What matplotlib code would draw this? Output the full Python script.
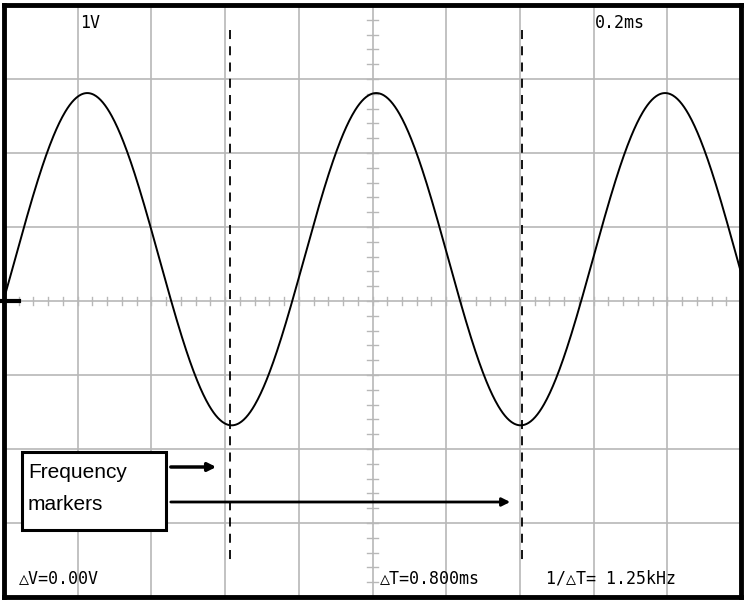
import numpy as np
import matplotlib
matplotlib.use("Agg")
import matplotlib.pyplot as plt
from matplotlib.patches import Rectangle

# Signal parameters (divisions: 0.2 ms/div, 1 V/div)
amplitude_div = [2.245]
offset_div = [0.565]
period_div = [3.92]
peak_pos_div = [1.13]
marker_pos_div = [3.07, 7.03]
top_labels = ["1V", "0.2ms"]
bottom_labels = ["\u25b3V=0.00V", "\u25b3T=0.800ms", "1/\u25b3T= 1.25kHz"]
note_lines = ["Frequency", "markers"]

fig = plt.figure(figsize=(7.45, 6.01), dpi=100)
ax = fig.add_axes([4/745, 4/601, 737/745, 592/601])
ax.set_xlim(0, 10); ax.set_ylim(-4, 4)
ax.set_xticks([]); ax.set_yticks([])
for s in ax.spines.values():
    s.set_linewidth(3.5); s.set_color("black")

gc = "#b8b8b8"
for x in range(1, 10):
    ax.axvline(x, color=gc, lw=1.2, zorder=1)
for y in range(-3, 4):
    ax.axhline(y, color=gc, lw=1.2, zorder=1)
for t in np.arange(0.2, 10, 0.2):
    ax.plot([t, t], [-0.06, 0.06], color=gc, lw=1.0, zorder=1)
for t in np.arange(-3.8, 4, 0.2):
    ax.plot([4.93, 5.07], [t, t], color=gc, lw=1.0, zorder=1)

x = np.linspace(0, 10, 1000)
y = offset_div[0] + amplitude_div[0] * np.cos(2*np.pi*(x - peak_pos_div[0]) / period_div[0])
ax.plot(x, y, color="black", lw=1.4, zorder=3)

for m in marker_pos_div:
    ax.plot([m, m], [3.66, -3.57], color="black", lw=1.3, ls=(0, (5, 4)), zorder=3)

# ground marker
ax.plot([-0.1, 0.2], [0, 0], color="black", lw=3, clip_on=False, zorder=4)

mono = "DejaVu Sans Mono"
fs = 12
ax.text(1.03, 3.76, top_labels[0], fontsize=fs, family=mono, va="center")
ax.text(8.02, 3.76, top_labels[1], fontsize=fs, family=mono, va="center")
ax.text(0.2, -3.75, bottom_labels[0], fontsize=fs, family=mono, va="center")
ax.text(5.1, -3.75, bottom_labels[1], fontsize=fs, family=mono, va="center")
ax.text(7.35, -3.75, bottom_labels[2], fontsize=fs, family=mono, va="center")

def px(xp): return (xp - 4) / 73.7
def py(yp): return 4 - (yp - 5) / 74.0

ax.add_patch(Rectangle((px(22), py(530)), px(166)-px(22), py(452)-py(530),
             facecolor="white", edgecolor="black", lw=2.2, zorder=5))
ax.text(px(28), py(472), note_lines[0], fontsize=15, va="center", zorder=6, family="Liberation Sans")
ax.text(px(28), py(504), note_lines[1], fontsize=15, va="center", zorder=6, family="Liberation Sans")
ax.annotate("", xy=(px(219), py(467)), xytext=(px(168), py(467)),
            arrowprops=dict(arrowstyle="-|>", lw=2.5, color="black", mutation_scale=12), zorder=6)
ax.annotate("", xy=(px(513), py(502)), xytext=(px(168), py(502)),
            arrowprops=dict(arrowstyle="-|>", lw=2, color="black", mutation_scale=12), zorder=6)

fig.savefig("out.png", dpi=100)
